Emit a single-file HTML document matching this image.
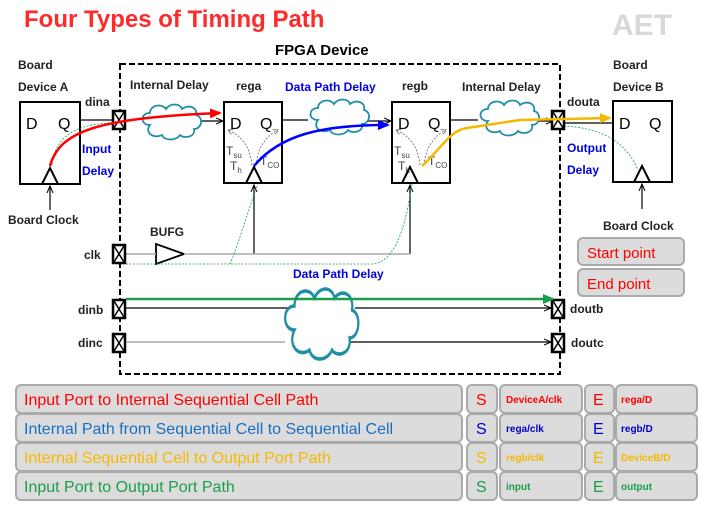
<!DOCTYPE html>
<html><head><meta charset="utf-8"><style>
body{margin:0;background:#fff}
svg{display:block;font-family:"Liberation Sans",sans-serif}
.b{font-weight:bold}
</style></head><body>
<svg width="707" height="508" viewBox="0 0 707 508">
<defs>
<marker id="ak" markerUnits="userSpaceOnUse" markerWidth="8" markerHeight="8" refX="7" refY="4" orient="auto"><path d="M0,1 L7,4 L0,7" fill="none" stroke="#000" stroke-width="1"/></marker>
<marker id="ar" markerUnits="userSpaceOnUse" markerWidth="12" markerHeight="10" refX="10" refY="5" orient="auto"><path d="M0,0 L12,5 L0,10z" fill="#f00"/></marker>
<marker id="ab" markerUnits="userSpaceOnUse" markerWidth="12" markerHeight="10" refX="10" refY="5" orient="auto"><path d="M0,0 L12,5 L0,10z" fill="#00f"/></marker>
<marker id="ay" markerUnits="userSpaceOnUse" markerWidth="12" markerHeight="10" refX="10" refY="5" orient="auto"><path d="M0,0 L12,5 L0,10z" fill="#f5b800"/></marker>
<marker id="ag" markerUnits="userSpaceOnUse" markerWidth="12" markerHeight="10" refX="10" refY="5" orient="auto"><path d="M0,0 L12,5 L0,10z" fill="#1a9e4a"/></marker>
<marker id="agr" markerUnits="userSpaceOnUse" markerWidth="6" markerHeight="6" refX="5" refY="3" orient="auto"><path d="M0,0 L5,3 L0,6" fill="none" stroke="#666" stroke-width="0.8"/></marker>
<g id="pad"><rect x="-6" y="-9" width="12" height="18" fill="#fff" stroke="#000" stroke-width="2.5"/><path d="M-5,-8 L5,8 M5,-8 L-5,8" stroke="#000" stroke-width="1.5"/></g>
<path id="cloud" d="M10,20 C0,20 0,8 10,8 C10,0 22,-2 26,4 C30,-2 40,-2 42,4 C48,-1 58,2 56,10 C64,12 62,24 54,24 C56,32 44,34 40,30 C36,36 24,36 22,30 C14,34 4,28 10,20Z" fill="#fff" stroke="#1f8ea8" stroke-width="1.8"/>
</defs>
<text x="24" y="27" font-size="24" class="b" fill="#ff2a2a">Four Types of Timing Path</text>
<text x="612" y="35" font-size="30" class="b" fill="#d8d8d8">AET</text>
<text x="275" y="55" font-size="15" class="b">FPGA Device</text>
<rect x="120" y="64" width="440" height="310" fill="none" stroke="#000" stroke-width="2" stroke-dasharray="6,3"/>
<g font-size="12" class="b" fill="#222">
<text x="18" y="69">Board</text><text x="18" y="91">Device A</text>
<text x="613" y="69">Board</text><text x="613" y="91">Device B</text>
<text x="85" y="106">dina</text><text x="567" y="106">douta</text>
<text x="130" y="89">Internal Delay</text><text x="236" y="90">rega</text><text x="402" y="90">regb</text><text x="462" y="91">Internal Delay</text>
<text x="8" y="224">Board Clock</text><text x="603" y="230">Board Clock</text>
<text x="150" y="236">BUFG</text>
<text x="84" y="259">clk</text><text x="78" y="314">dinb</text><text x="78" y="347">dinc</text>
<text x="570" y="313">doutb</text><text x="571" y="347">doutc</text>
</g>
<g font-size="12" class="b" fill="#0000e0">
<text x="285" y="91">Data Path Delay</text>
<text x="82" y="153">Input</text><text x="82" y="175">Delay</text>
<text x="567" y="152">Output</text><text x="567" y="174">Delay</text>
<text x="293" y="278">Data Path Delay</text>
</g>
<g fill="#fff" stroke="#000" stroke-width="2">
<rect x="20" y="102" width="60" height="82"/><rect x="224" y="102" width="58" height="81"/>
<rect x="392" y="102" width="58" height="81"/><rect x="613" y="101" width="59" height="81"/>
</g>
<g fill="none" stroke="#000" stroke-width="2">
<path d="M42,184 L50,168 L58,184"/><path d="M246,183 L254,167 L262,183"/><path d="M402,183 L410,167 L418,183"/><path d="M634,182 L642,166 L650,182"/>
</g>
<g font-size="16">
<text x="26" y="129">D</text><text x="58" y="129">Q</text>
<text x="230" y="129">D</text><text x="260" y="129">Q</text>
<text x="398" y="129">D</text><text x="428" y="129">Q</text>
<text x="619" y="129">D</text><text x="649" y="129">Q</text>
</g>
<g font-size="12" fill="#444">
<text x="226" y="155">T<tspan font-size="8" dy="3">su</tspan></text><text x="230" y="170">T<tspan font-size="8" dy="3">h</tspan></text><text x="260" y="165">T<tspan font-size="8" dy="3">CO</tspan></text>
<text x="394" y="155">T<tspan font-size="8" dy="3">su</tspan></text><text x="398" y="170">T<tspan font-size="8" dy="3">h</tspan></text><text x="428" y="165">T<tspan font-size="8" dy="3">CO</tspan></text>
</g>
<g fill="none" stroke="#666" stroke-width="0.8" stroke-dasharray="2,1.5">
<path d="M252,165 C250,145 240,135 228,130" marker-end="url(#agr)"/><path d="M256,165 C258,145 268,135 278,130" marker-end="url(#agr)"/>
<path d="M420,165 C418,145 408,135 396,130" marker-end="url(#agr)"/><path d="M424,165 C426,145 436,135 446,130" marker-end="url(#agr)"/>
</g>
<g stroke="#000" stroke-width="1.2" fill="none">
<line x1="80" y1="120" x2="113" y2="120"/>
<line x1="200" y1="121" x2="223" y2="121" marker-end="url(#ak)"/>
<line x1="282" y1="120" x2="308" y2="120"/>
<line x1="365" y1="121" x2="391" y2="121" marker-end="url(#ak)"/>
<line x1="450" y1="120" x2="478" y2="120"/>
<line x1="535" y1="121" x2="553" y2="121" marker-end="url(#ak)"/>
<line x1="564" y1="123" x2="613" y2="123"/>
<line x1="50" y1="210" x2="50" y2="186" marker-end="url(#ak)"/>
<line x1="642" y1="209" x2="642" y2="184" marker-end="url(#ak)"/>
<line x1="254" y1="254" x2="254" y2="185" marker-end="url(#ak)"/>
<line x1="410" y1="254" x2="410" y2="185" marker-end="url(#ak)"/>
<line x1="126" y1="308" x2="290" y2="308"/><line x1="355" y1="308" x2="551" y2="308" marker-end="url(#ak)"/>
<line x1="346" y1="342" x2="551" y2="342" marker-end="url(#ak)"/>
<path d="M156,244 L184,254 L156,264Z" fill="#fff" stroke-width="1.8"/>
</g>
<g stroke="#aaa" stroke-width="1.5"><line x1="126" y1="254" x2="156" y2="254"/><line x1="184" y1="254" x2="410" y2="254"/><line x1="126" y1="342" x2="285" y2="342"/></g>
<g fill="none" stroke="#1a9e4a" stroke-width="0.8" stroke-dasharray="2,1.5">
<path d="M52,165 C55,140 70,125 110,123"/>
<path d="M126,264 L374,264 C395,260 405,230 412,184"/>
<path d="M230,264 C240,240 248,210 258,184"/>
<path d="M564,126 C600,128 625,140 638,170"/>
</g>
<g transform="translate(140,105)"><use href="#cloud"/></g>
<g transform="translate(308,100)"><use href="#cloud"/></g>
<g transform="translate(478,101)"><use href="#cloud"/></g>
<g transform="translate(282,290) scale(1.25,2.0)"><use href="#cloud"/></g>
<use href="#pad" x="119" y="120"/><use href="#pad" x="558" y="120"/>
<use href="#pad" x="119" y="254"/><use href="#pad" x="119" y="309"/><use href="#pad" x="119" y="343"/>
<use href="#pad" x="558" y="309"/><use href="#pad" x="558" y="343"/>
<path d="M50,166 C60,130 100,118 220,113" fill="none" stroke="#f00" stroke-width="2.5" marker-end="url(#ar)"/>
<path d="M254,166 C280,135 320,125 388,125" fill="none" stroke="#00f" stroke-width="2.5" marker-end="url(#ab)"/>
<path d="M422,166 C440,150 450,130 467,128 L520,120 L610,118" fill="none" stroke="#f5b800" stroke-width="2.5" marker-end="url(#ay)"/>
<line x1="126" y1="299" x2="553" y2="299" stroke="#1a9e4a" stroke-width="2.5" marker-end="url(#ag)"/>
<g fill="#dcdcdc" stroke="#aaa" stroke-width="2">
<rect x="578" y="238" width="106" height="27" rx="5"/><rect x="578" y="269" width="106" height="27" rx="5"/>
</g>
<text x="587" y="258" font-size="15" fill="#f00">Start point</text><text x="587" y="289" font-size="15" fill="#f00">End point</text>
<g fill="#dcdcdc" stroke="#aaa" stroke-width="2">
<rect x="16" y="385" width="446" height="28" rx="5"/><rect x="467" y="385" width="30" height="28" rx="5"/><rect x="500" y="385" width="82" height="28" rx="5"/><rect x="585" y="385" width="29" height="28" rx="5"/><rect x="616" y="385" width="81" height="28" rx="5"/>
<rect x="16" y="414" width="446" height="28" rx="5"/><rect x="467" y="414" width="30" height="28" rx="5"/><rect x="500" y="414" width="82" height="28" rx="5"/><rect x="585" y="414" width="29" height="28" rx="5"/><rect x="616" y="414" width="81" height="28" rx="5"/>
<rect x="16" y="443" width="446" height="28" rx="5"/><rect x="467" y="443" width="30" height="28" rx="5"/><rect x="500" y="443" width="82" height="28" rx="5"/><rect x="585" y="443" width="29" height="28" rx="5"/><rect x="616" y="443" width="81" height="28" rx="5"/>
<rect x="16" y="472" width="446" height="28" rx="5"/><rect x="467" y="472" width="30" height="28" rx="5"/><rect x="500" y="472" width="82" height="28" rx="5"/><rect x="585" y="472" width="29" height="28" rx="5"/><rect x="616" y="472" width="81" height="28" rx="5"/>
</g>
<g font-size="16">
<text x="24" y="405" fill="#f00">Input Port to Internal Sequential Cell Path</text>
<text x="24" y="434" fill="#1a6fc0">Internal Path from Sequential Cell to Sequential Cell</text>
<text x="24" y="463" fill="#f5b800">Internal Sequential Cell to Output Port Path</text>
<text x="24" y="492" fill="#1a9e4a">Input Port to Output Port Path</text>
<text x="476" y="405" fill="#f00">S</text><text x="593" y="405" fill="#f00">E</text>
<text x="476" y="434" fill="#00c">S</text><text x="593" y="434" fill="#00c">E</text>
<text x="476" y="463" fill="#f5b800">S</text><text x="593" y="463" fill="#f5b800">E</text>
<text x="476" y="492" fill="#1a9e4a">S</text><text x="593" y="492" fill="#1a9e4a">E</text>
</g>
<g font-size="10" class="b">
<text x="506" y="403" fill="#f00">DeviceA/clk</text><text x="621" y="403" fill="#f00">rega/D</text>
<text x="506" y="432" fill="#00c">rega/clk</text><text x="621" y="432" fill="#00c">regb/D</text>
<text x="506" y="461" fill="#f5b800">regb/clk</text><text x="621" y="461" fill="#f5b800">DeviceB/D</text>
<text x="506" y="490" fill="#1a9e4a">input</text><text x="621" y="490" fill="#1a9e4a">output</text>
</g>
</svg>
</body></html>
